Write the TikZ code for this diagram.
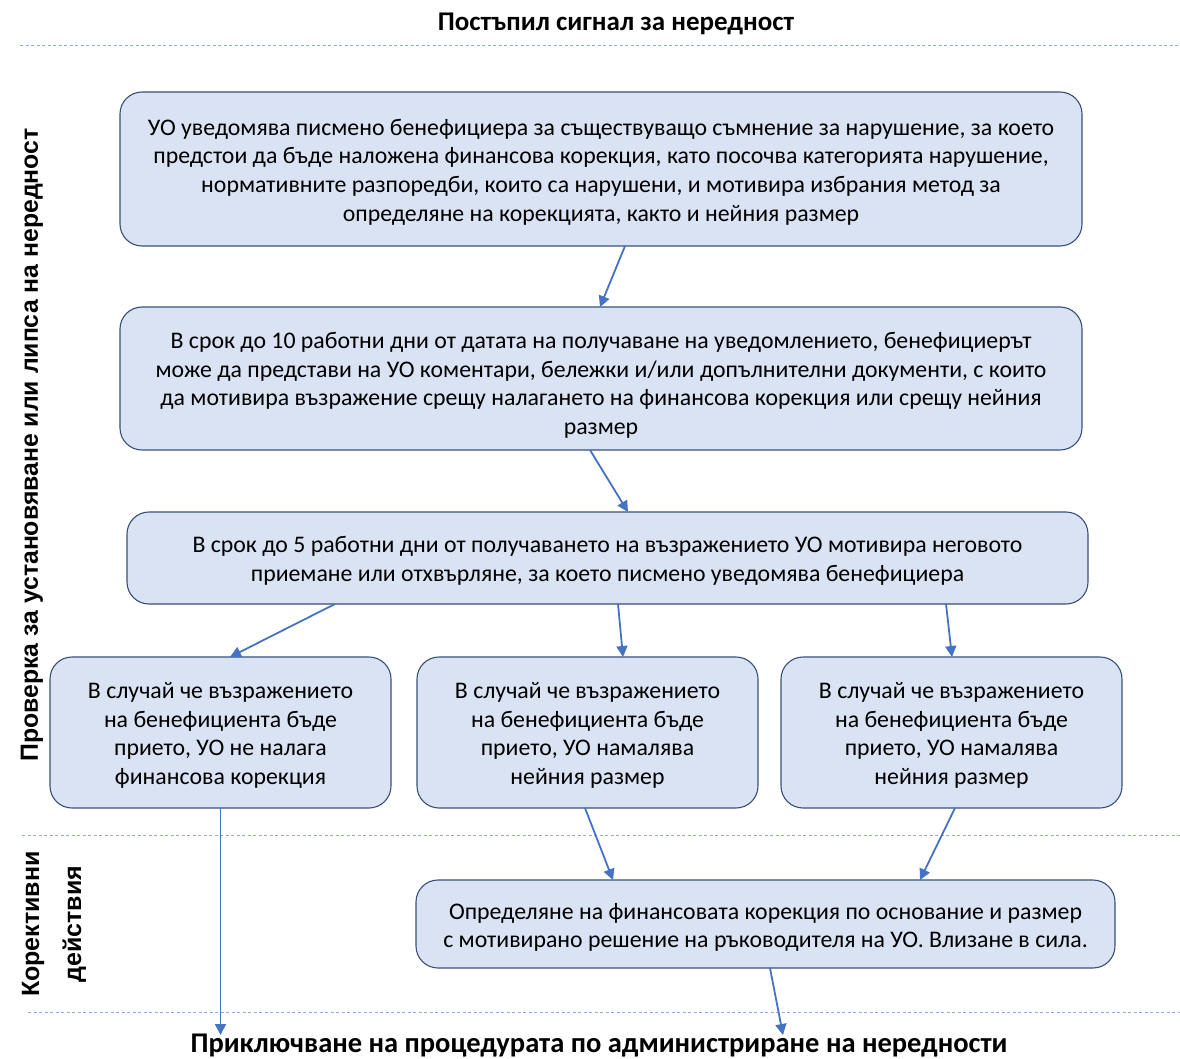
\documentclass[tikz,border=0pt]{standalone}
\usepackage{fontspec}
\setmainfont{Carlito}
\newfontfamily\arialf{Liberation Sans}
\usetikzlibrary{arrows.meta}
\definecolor{boxfill}{RGB}{218,227,243}
\definecolor{boxdraw}{RGB}{56,80,120}
\definecolor{arrowc}{RGB}{68,114,196}
\definecolor{sepc}{RGB}{143,170,220}
\tikzset{
  box/.style={draw=boxdraw, fill=boxfill, line width=1.1pt, rounded corners=22pt,
    inner sep=0pt, outer sep=0pt},
  boxtext/.style={align=center, inner sep=0pt, font=\fontsize{23.8}{28.6}\selectfont},
  conn/.style={draw=arrowc, line width=1.8pt, -{Triangle[length=11pt,width=11pt]}},
  sep/.style={draw=sepc, line width=1pt, dash pattern=on 3pt off 2.5pt},
}
\begin{document}
\begin{tikzpicture}[x=1pt,y=-1pt]
\useasboundingbox (0,0) rectangle (1180,1059);
% separators
\draw[sep] (20,46) -- (1180,46);
\draw[sep] (22,835) -- (1180,835);
\draw[sep] (28,1012) -- (1180,1012);
% titles
\node[font=\bfseries\fontsize{27}{32}\selectfont] (top) at (616,24) {Постъпил сигнал за нередност};
\node[font=\bfseries\fontsize{28.5}{34}\selectfont] (bottom) at (599,1046) {Приключване на процедурата по администриране на нередности};
\node[rotate=90, font=\arialf\bfseries\fontsize{24.8}{30}\selectfont] (lab1) at (32,445) {Проверка за установяване или липса на нередност};
\node[rotate=90, align=center, font=\arialf\bfseries\fontsize{25}{42}\selectfont] (lab2) at (54,924) {Корективни\\действия};
% boxes
\node[box, minimum width=962pt, minimum height=154pt] (b1) at (601,169) {};
\node[box, minimum width=962pt, minimum height=143pt] (b2) at (601,378.5) {};
\node[box, minimum width=961pt, minimum height=92pt] (b3) at (607.5,558) {};
\node[box, minimum width=341pt, minimum height=151pt] (b4a) at (220.5,732.5) {};
\node[box, minimum width=341pt, minimum height=151pt] (b4b) at (587.5,732.5) {};
\node[box, minimum width=341pt, minimum height=151pt] (b4c) at (951.5,732.5) {};
\node[box, minimum width=699pt, minimum height=88pt] (b5) at (765.5,924) {};
% box texts
\node[boxtext] (t1) at ([yshift=-3pt]b1.center)
  {УО уведомява писмено бенефициера за съществуващо съмнение за нарушение, за което\\
   предстои да бъде наложена финансова корекция, като посочва категорията нарушение,\\
   нормативните разпоредби, които са нарушени, и мотивира избрания метод за\\
   определяне на корекцията, както и нейния размер};
\node[boxtext] (t2) at ([yshift=-7pt]b2.center)
  {В срок до 10 работни дни от датата на получаване на уведомлението, бенефициерът\\
   може да представи на УО коментари, бележки и/или допълнителни документи, с които\\
   да мотивира възражение срещу налагането на финансова корекция или срещу нейния\\
   размер};
\node[boxtext] (t3) at ([yshift=-3pt]b3.center)
  {В срок до 5 работни дни от получаването на възражението УО мотивира неговото\\
   приемане или отхвърляне, за което писмено уведомява бенефициера};
\node[boxtext] (t4a) at ([yshift=-3pt]b4a.center)
  {В случай че възражението\\на бенефициента бъде\\прието, УО не налага\\финансова корекция};
\node[boxtext] (t4b) at ([yshift=-3pt]b4b.center)
  {В случай че възражението\\на бенефициента бъде\\прието, УО намалява\\нейния размер};
\node[boxtext] (t4c) at ([yshift=-3pt]b4c.center)
  {В случай че възражението\\на бенефициента бъде\\прието, УО намалява\\нейния размер};
\node[boxtext] (t5) at ([yshift=-3.5pt]b5.center)
  {Определяне на финансовата корекция по основание и размер\\
   с мотивирано решение на ръководителя на УО. Влизане в сила.};
% end coordinates
\coordinate (e1) at (220.5,1035);
\coordinate (e2) at (783,1035);
% connectors
\draw[conn] ([xshift=24pt]b1.south) -- ([xshift=-1pt]b2.north);
\draw[conn] ([xshift=-11pt]b2.south) -- ([xshift=20.5pt]b3.north);
\draw[conn] ([xshift=-272.5pt]b3.south) -- ([xshift=9.5pt]b4a.north);
\draw[conn] ([xshift=10.5pt]b3.south) -- ([xshift=35.5pt]b4b.north);
\draw[conn] ([xshift=338.5pt]b3.south) -- ([xshift=0.5pt]b4c.north);
\draw[conn] (b4a.south) -- (e1);
\draw[conn] ([xshift=-2.5pt]b4b.south) -- ([xshift=-152.5pt]b5.north);
\draw[conn] ([xshift=3.5pt]b4c.south) -- ([xshift=154.5pt]b5.north);
\draw[conn] ([xshift=4.5pt]b5.south) -- (e2);
\end{tikzpicture}
\end{document}
